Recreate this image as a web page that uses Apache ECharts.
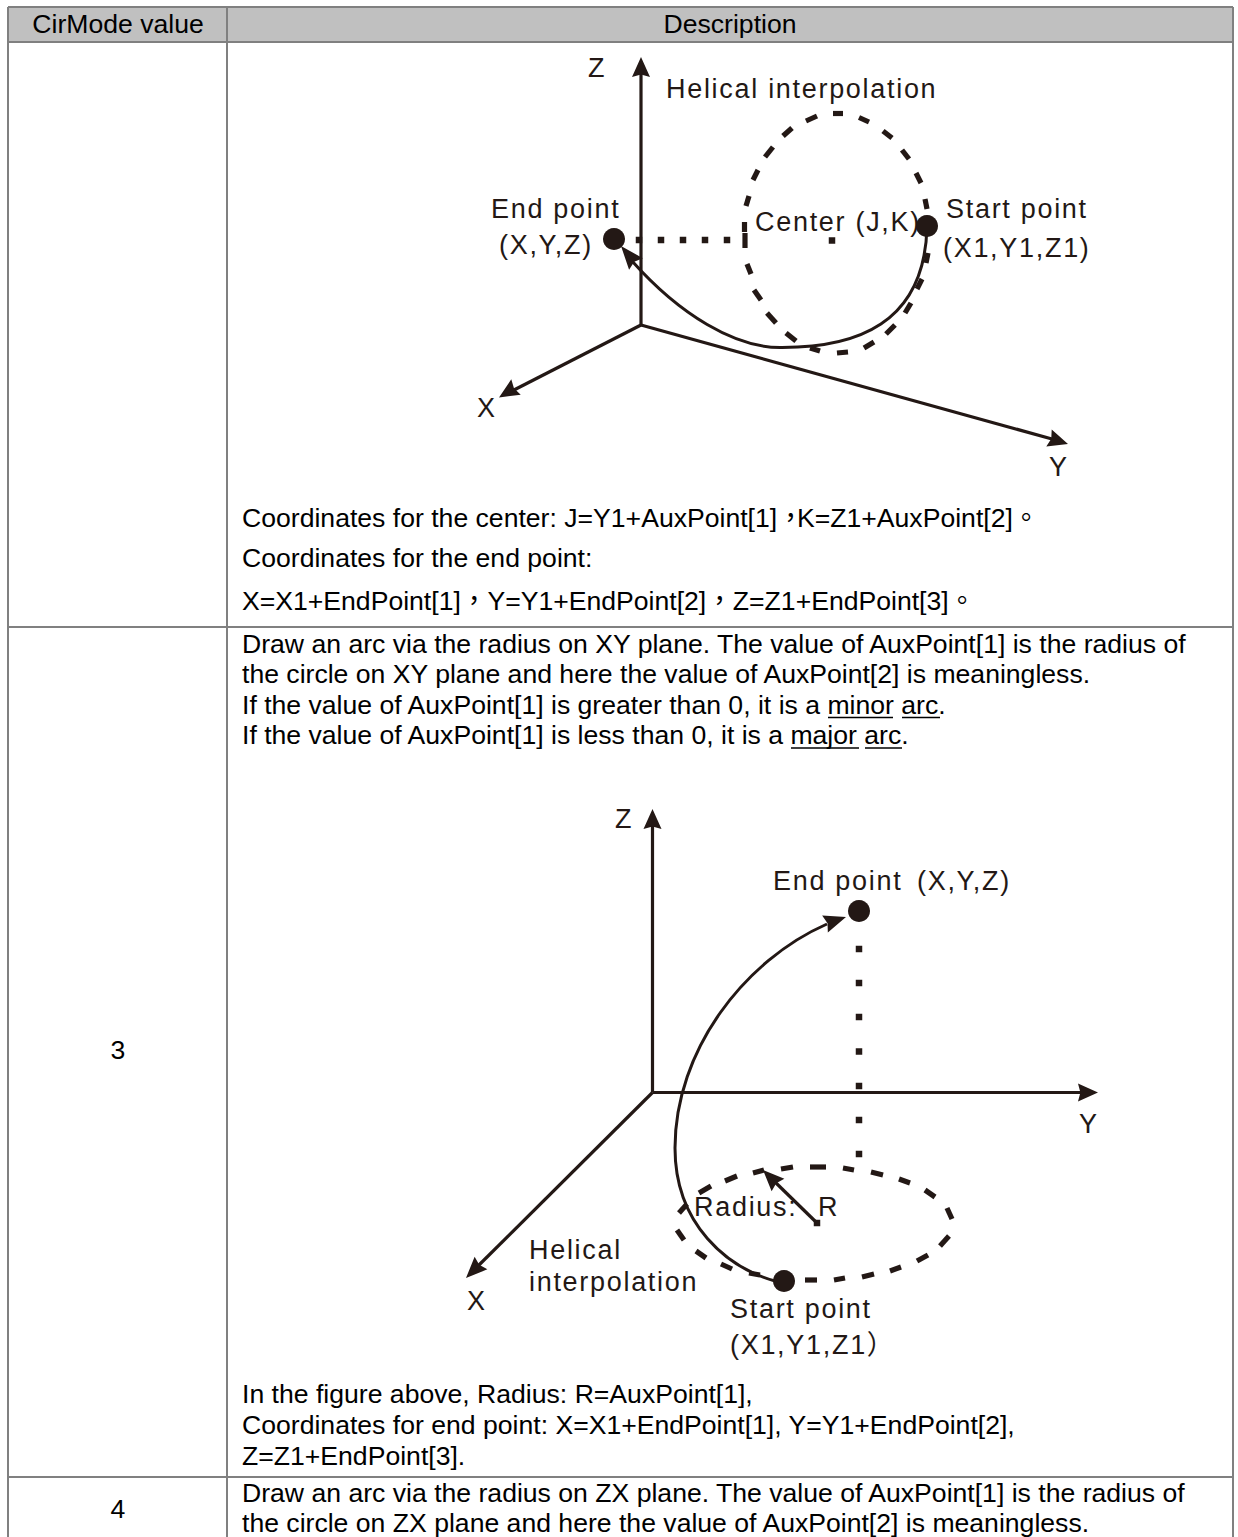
<!DOCTYPE html>
<html>
<head>
<meta charset="utf-8">
<style>
  html, body { margin: 0; background: #fff; }
  #chart { width: 1238px; height: 1537px; }
  /* the labels inside the figures are tracked out, 27px is only used for them */
  #chart text[style*="27px"] { letter-spacing: 1.7px; }
</style>
<script src="https://cdn.jsdelivr.net/npm/echarts@6/dist/echarts.min.js"></script>
</head>
<body>
<div id="chart"></div>
<script>
const headerCell = [[8, 7, 1233, 42]]
const tableRules = [
  [8, 7, 1233, 7], [8, 42, 1233, 42], [8, 627, 1233, 627], [8, 1477, 1233, 1477],
  [8, 7, 8, 1537], [227, 7, 227, 1537], [1233, 7, 1233, 1537]
]
const underlines = [
  [828, 717.5, 893, 717.5], [902, 717.5, 940, 717.5],
  [791, 748, 859, 748], [865, 748, 902, 748]
]
const centeredTexts = [
  [118, 24, 'CirMode value'],
  [730, 24, 'Description'],
  [118, 1050, '3'],
  [118, 1509, '4']
]
const bodyTexts = [
  [242, 518, 'Coordinates for the center: J=Y1+AuxPoint[1]，'],
  [797, 518, 'K=Z1+AuxPoint[2]。'],
  [242, 558, 'Coordinates for the end point:'],
  [242, 601, 'X=X1+EndPoint[1]，Y=Y1+EndPoint[2]，Z=Z1+EndPoint[3]。'],
  [242, 644, 'Draw an arc via the radius on XY plane. The value of AuxPoint[1] is the radius of'],
  [242, 674, 'the circle on XY plane and here the value of AuxPoint[2] is meaningless.'],
  [242, 705, 'If the value of AuxPoint[1] is greater than 0, it is a minor arc.'],
  [242, 735, 'If the value of AuxPoint[1] is less than 0, it is a major arc.'],
  [242, 1394, 'In the figure above, Radius: R=AuxPoint[1],'],
  [242, 1425, 'Coordinates for end point: X=X1+EndPoint[1], Y=Y1+EndPoint[2],'],
  [242, 1456, 'Z=Z1+EndPoint[3].'],
  [242, 1493, 'Draw an arc via the radius on ZX plane. The value of AuxPoint[1] is the radius of'],
  [242, 1523, 'the circle on ZX plane and here the value of AuxPoint[2] is meaningless.']
]
const figureLabels = [
  [588, 68, 'Z'],
  [666, 89, 'Helical interpolation'],
  [491, 209, 'End point'],
  [499, 245, '(X,Y,Z)'],
  [755, 222, 'Center (J,K)'],
  [946, 209, 'Start point'],
  [943, 248, '(X1,Y1,Z1)'],
  [477, 408, 'X'],
  [1049, 467, 'Y'],
  [615, 819, 'Z'],
  [773, 881, 'End point'],
  [917, 881, '(X,Y,Z)'],
  [1079, 1124, 'Y'],
  [694, 1207, 'Radius:'],
  [818, 1207, 'R'],
  [529, 1250, 'Helical'],
  [529, 1282, 'interpolation'],
  [467, 1301, 'X'],
  [730, 1309, 'Start point'],
  [730, 1345, '(X1,Y1,Z1）']
]
const axisLines = [
  [641, 325, 641, 72], [641, 325, 512, 391], [641, 325, 1052, 439],
  [652.5, 1092.5, 652.5, 824], [652.5, 1092.5, 1082, 1092.5], [652.5, 1092.5, 478, 1266],
  [817, 1223, 775, 1182]
]
const arrowHeads = [
  [641, 57, 641, 77], [499, 397.5, 516, 387], [1068, 444, 1049, 438],
  [652.5, 809, 652.5, 829], [1098, 1092.5, 1078, 1092.5], [466, 1278, 481, 1263],
  [763, 1170, 778, 1185], [846, 917, 825, 924], [621, 246, 636, 264]
]
// [x1, y1, cpx1, cpy1, cpx2, cpy2, x2, y2]
const helixCurves = [
  [927, 226, 925, 325, 855, 348, 780, 347.5],
  [780, 347.5, 735, 347.5, 680, 315, 632, 261],
  [775, 1281, 728, 1268, 675, 1225, 675, 1148],
  [675, 1148, 675, 1050, 745, 960, 827, 924]
]
const ellipseDashes1 = [
  [833, 113.5, 843, 113.5], [859, 117.5, 869, 122], [883, 131, 892, 138], [902, 150, 909, 159],
  [916, 173, 921, 183], [925, 199, 927, 209], [928, 253, 926, 263], [922, 279, 917, 289],
  [911, 303, 905, 313], [895, 325, 886, 334], [874, 342, 864, 348], [848, 352, 837, 353],
  [820, 351, 810, 348], [796, 341, 786, 333], [776, 323, 767, 313], [761, 300, 754, 290],
  [751, 274, 747, 264], [745, 248, 745, 233], [744.5, 232, 744.5, 222], [749, 196, 746, 206],
  [758, 170, 753, 180], [773, 147, 765, 157], [792, 128, 783, 136], [817, 116, 806, 121]
]
const ellipseDashes2 = [
  [753, 1173, 764, 1170], [781, 1169, 793, 1167], [810, 1167, 826, 1167], [843, 1168, 854, 1170],
  [871, 1172, 883, 1175], [899, 1179, 910, 1183], [925, 1190, 935, 1197], [947, 1208, 952, 1219],
  [949, 1236, 940, 1246], [928, 1255, 917, 1261], [901, 1267, 890, 1271], [874, 1274, 862, 1277],
  [845, 1278, 834, 1280], [817, 1280, 805, 1280], [760, 1275, 749, 1273], [732, 1269, 721, 1264],
  [706, 1258, 696, 1251], [684, 1240, 677, 1230], [679, 1213, 687, 1204], [699, 1193, 711, 1186],
  [725, 1181, 737, 1176]
]
const dottedPoints = [
  [639, 240], [661, 240], [683, 240], [705, 240], [727, 240], [832, 240.5],
  [859, 949], [859, 983], [859, 1017], [859, 1051.5], [859, 1086], [859, 1120], [859, 1154],
  [817, 1223]
]
const bigDots = [[614, 239], [927, 226], [859, 911], [784, 1281]]

const INK = '#231815'
const BODY_FONT = '"Liberation Sans", "Noto Sans CJK TC", sans-serif'

// straight segments in data coordinates, [x1, y1, x2, y2]
const segmentSeries = (data, stroke, lineWidth) => ({
  type: 'custom',
  silent: true,
  clip: false,
  data,
  encode: { x: 0, y: 1 },
  renderItem: (params, api) => {
    const a = api.coord([api.value(0), api.value(1)])
    const b = api.coord([api.value(2), api.value(3)])
    return {
      type: 'line',
      shape: { x1: a[0], y1: a[1], x2: b[0], y2: b[1] },
      style: { stroke, lineWidth }
    }
  }
})

const textSeries = (rows, fontSize, fill, textAlign) => ({
  type: 'custom',
  silent: true,
  clip: false,
  data: rows.map((row) => [row[0], row[1]]),
  encode: { x: 0, y: 1 },
  renderItem: (params, api) => {
    const p = api.coord([api.value(0), api.value(1)])
    return {
      type: 'text',
      style: {
        x: p[0],
        y: p[1],
        text: rows[params.dataIndex][2],
        fontSize,
        fontFamily: BODY_FONT,
        fill,
        textAlign,
        textVerticalAlign: 'middle'
      }
    }
  }
})

// notched arrow head from [tipX, tipY, backX, backY]
const arrowSeries = {
  type: 'custom',
  silent: true,
  clip: false,
  data: arrowHeads,
  encode: { x: 0, y: 1 },
  renderItem: (params, api) => {
    const tip = api.coord([api.value(0), api.value(1)])
    const back = api.coord([api.value(2), api.value(3)])
    const dx = tip[0] - back[0]
    const dy = tip[1] - back[1]
    const len = Math.sqrt(dx * dx + dy * dy)
    const nx = (-dy / len) * 9
    const ny = (dx / len) * 9
    return {
      type: 'polygon',
      shape: {
        points: [
          tip,
          [back[0] + nx, back[1] + ny],
          [back[0] + dx * 0.12, back[1] + dy * 0.12],
          [back[0] - nx, back[1] - ny]
        ]
      },
      style: { fill: INK }
    }
  }
}

const curveSeries = {
  type: 'custom',
  silent: true,
  clip: false,
  data: helixCurves,
  encode: { x: 0, y: 1 },
  renderItem: (params, api) => {
    const p1 = api.coord([api.value(0), api.value(1)])
    const c1 = api.coord([api.value(2), api.value(3)])
    const c2 = api.coord([api.value(4), api.value(5)])
    const p2 = api.coord([api.value(6), api.value(7)])
    return {
      type: 'bezierCurve',
      shape: {
        x1: p1[0], y1: p1[1],
        cpx1: c1[0], cpy1: c1[1],
        cpx2: c2[0], cpy2: c2[1],
        x2: p2[0], y2: p2[1]
      },
      style: { stroke: INK, lineWidth: 3, fill: null }
    }
  }
}

const chart = echarts.init(document.getElementById('chart'), null, { renderer: 'svg' })
chart.setOption({
  animation: false,
  backgroundColor: '#fff',
  grid: { left: 0, right: 0, top: 0, bottom: 0 },
  xAxis: { type: 'value', min: 0, max: 1238, show: false },
  yAxis: { type: 'value', min: 0, max: 1537, inverse: true, show: false },
  series: [
    {
      type: 'custom',
      silent: true,
      data: headerCell,
      encode: { x: 0, y: 1 },
      renderItem: (params, api) => {
        const a = api.coord([api.value(0), api.value(1)])
        const b = api.coord([api.value(2), api.value(3)])
        return {
          type: 'rect',
          shape: { x: a[0], y: a[1], width: b[0] - a[0], height: b[1] - a[1] },
          style: { fill: '#c0c0c0' }
        }
      }
    },
    segmentSeries(tableRules, '#808080', 2),
    segmentSeries(underlines, '#000', 1.5),
    segmentSeries(axisLines, INK, 3.2),
    curveSeries,
    segmentSeries(ellipseDashes1, INK, 5.2),
    segmentSeries(ellipseDashes2, INK, 5.2),
    arrowSeries,
    {
      type: 'scatter',
      silent: true,
      data: dottedPoints,
      symbol: 'rect',
      symbolSize: 6.5,
      itemStyle: { color: INK, opacity: 1 }
    },
    {
      type: 'scatter',
      silent: true,
      data: bigDots,
      symbol: 'circle',
      symbolSize: 22,
      itemStyle: { color: INK, opacity: 1 }
    },
    textSeries(centeredTexts, 26.6, '#000', 'center'),
    textSeries(bodyTexts, 26.6, '#000', 'left'),
    textSeries(figureLabels, 27, INK, 'left')
  ]
})
</script>
</body>
</html>
